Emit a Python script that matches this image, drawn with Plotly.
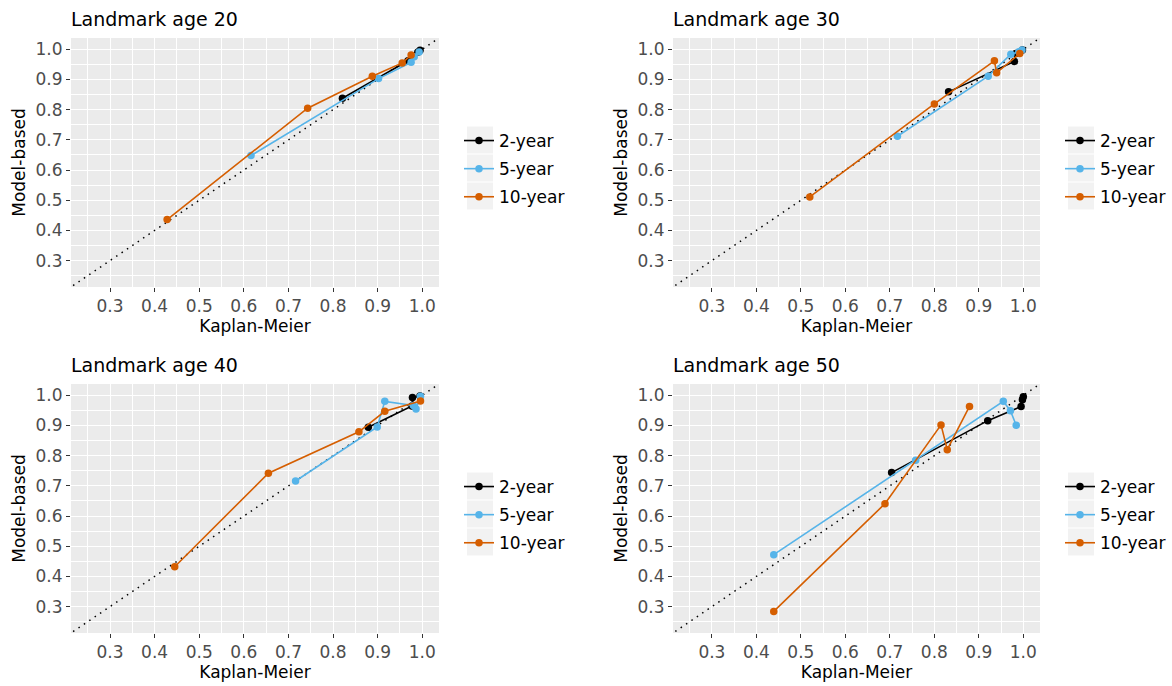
import plotly.graph_objects as go
from plotly.subplots import make_subplots

# Calibration of survival probabilities: Kaplan-Meier (x) vs model-based (y)
ages = [20, 30, 40, 50]
horizons = ["2-year", "5-year", "10-year"]
colors = ["#000000", "#56B4E9", "#D55E00"]

km_age20_2y = [0.821, 0.968, 0.990, 0.995]
mb_age20_2y = [0.838, 0.962, 0.990, 0.997]
km_age20_5y = [0.616, 0.902, 0.975, 0.982, 0.993]
mb_age20_5y = [0.648, 0.903, 0.957, 0.975, 0.991]
km_age20_10y = [0.428, 0.743, 0.888, 0.955, 0.975]
mb_age20_10y = [0.436, 0.805, 0.911, 0.955, 0.981]

km_age30_2y = [0.832, 0.980, 0.983, 0.998]
mb_age30_2y = [0.859, 0.960, 0.986, 0.998]
km_age30_5y = [0.717, 0.921, 0.972, 0.990, 0.997]
mb_age30_5y = [0.712, 0.911, 0.984, 0.992, 0.998]
km_age30_10y = [0.520, 0.800, 0.935, 0.940, 0.992]
mb_age30_10y = [0.511, 0.819, 0.962, 0.922, 0.986]

km_age40_2y = [0.879, 0.977, 0.978, 0.995]
mb_age40_2y = [0.894, 0.965, 0.993, 0.998]
km_age40_5y = [0.716, 0.899, 0.916, 0.980, 0.986, 0.996]
mb_age40_5y = [0.716, 0.895, 0.980, 0.966, 0.955, 0.997]
km_age40_10y = [0.445, 0.655, 0.858, 0.916, 0.996]
mb_age40_10y = [0.432, 0.742, 0.879, 0.947, 0.981]

km_age50_2y = [0.704, 0.920, 0.995, 0.998, 1.000]
mb_age50_2y = [0.744, 0.916, 0.963, 0.985, 0.995]
km_age50_5y = [0.439, 0.758, 0.955, 0.971, 0.984]
mb_age50_5y = [0.472, 0.785, 0.980, 0.949, 0.901]
km_age50_10y = [0.439, 0.689, 0.815, 0.829, 0.879]
mb_age50_10y = [0.284, 0.641, 0.902, 0.820, 0.963]

tick_vals = [0.3, 0.4, 0.5, 0.6, 0.7, 0.8, 0.9, 1.0]
tick_text = ["0.3", "0.4", "0.5", "0.6", "0.7", "0.8", "0.9", "1.0"]
axis_range = [0.2125, 1.0375]

panels = {
    20: [(km_age20_2y, mb_age20_2y), (km_age20_5y, mb_age20_5y), (km_age20_10y, mb_age20_10y)],
    30: [(km_age30_2y, mb_age30_2y), (km_age30_5y, mb_age30_5y), (km_age30_10y, mb_age30_10y)],
    40: [(km_age40_2y, mb_age40_2y), (km_age40_5y, mb_age40_5y), (km_age40_10y, mb_age40_10y)],
    50: [(km_age50_2y, mb_age50_2y), (km_age50_5y, mb_age50_5y), (km_age50_10y, mb_age50_10y)],
}

W, H = 1172, 686
FONT = "DejaVu Sans, Verdana, sans-serif"

# panel geometry in pixels: (left, right, top, bottom)
col_px = [(71, 439), (673, 1040)]
row_px = [(38, 287), (384, 633)]

def px_x(v):
    return v / W

def px_y(v):
    return 1 - v / H

fig = make_subplots(rows=2, cols=2)

legend_names = ["legend", "legend2", "legend3", "legend4"]
shapes = []
annotations = []

for i, age in enumerate(ages):
    r, c = divmod(i, 2)
    xl, xr = col_px[c]
    yt, yb = row_px[r]
    ax_suffix = "" if i == 0 else str(i + 1)

    # identity reference line
    fig.add_trace(
        go.Scatter(x=[0, 1.1], y=[0, 1.1], mode="lines",
                   line=dict(color="black", width=1.5, dash="1.5px,5px"),
                   hoverinfo="skip", showlegend=False),
        row=r + 1, col=c + 1)

    for k, (kx, my) in enumerate(panels[age]):
        fig.add_trace(
            go.Scatter(x=kx, y=my, mode="lines+markers", name=horizons[k],
                       line=dict(color=colors[k], width=1.6),
                       marker=dict(color=colors[k], size=7.5),
                       legend=legend_names[i], legendgroup=f"{age}-{k}",
                       showlegend=True),
            row=r + 1, col=c + 1)

    axis_common = dict(
        range=axis_range, tickvals=tick_vals, ticktext=tick_text,
        showgrid=True, gridcolor="white", gridwidth=1.2,
        zeroline=False, showline=False,
        ticks="outside", ticklen=4, tickwidth=1, tickcolor="#333333",
        tickfont=dict(family=FONT, size=17, color="#4D4D4D"),
        minor=dict(showgrid=True, gridcolor="white", gridwidth=0.6,
                   tick0=0.25, dtick=0.1, ticks=""),
    )
    fig.layout["xaxis" + ax_suffix].update(
        domain=[px_x(xl), px_x(xr)], **axis_common,
        title=dict(text="Kaplan-Meier", standoff=3,
                   font=dict(family=FONT, size=17, color="black")))
    fig.layout["yaxis" + ax_suffix].update(
        domain=[px_y(yb), px_y(yt)], **axis_common,
        title=dict(text="Model-based", standoff=5,
                   font=dict(family=FONT, size=17, color="black")))

    # panel title
    annotations.append(dict(
        text=f"Landmark age {age}", xref="paper", yref="paper",
        x=px_x(xl - 2), y=px_y(yt - 19), xanchor="left", yanchor="middle",
        showarrow=False, font=dict(family=FONT, size=19, color="black")))

    # legend placement with grey key backgrounds
    key_left = xr + 28
    key_top = yt + 88
    key_h = 28
    for k in range(3):
        shapes.append(dict(
            type="rect", xref="paper", yref="paper",
            x0=px_x(key_left), x1=px_x(key_left + 26),
            y0=px_y(key_top + k * key_h + 0.5), y1=px_y(key_top + (k + 1) * key_h - 0.5),
            fillcolor="#F2F2F2", line=dict(width=0), layer="above"))
    fig.layout[legend_names[i]] = dict(
        x=px_x(key_left - 8), y=px_y(key_top - 3), xanchor="left", yanchor="top",
        bgcolor="rgba(0,0,0,0)", borderwidth=0, tracegroupgap=3,
        font=dict(family=FONT, size=17, color="black"), itemwidth=30)

fig.update_layout(
    width=W, height=H, margin=dict(l=0, r=0, t=0, b=0),
    paper_bgcolor="white", plot_bgcolor="#EBEBEB",
    shapes=shapes, annotations=annotations,
)

fig.write_html("out.html")
